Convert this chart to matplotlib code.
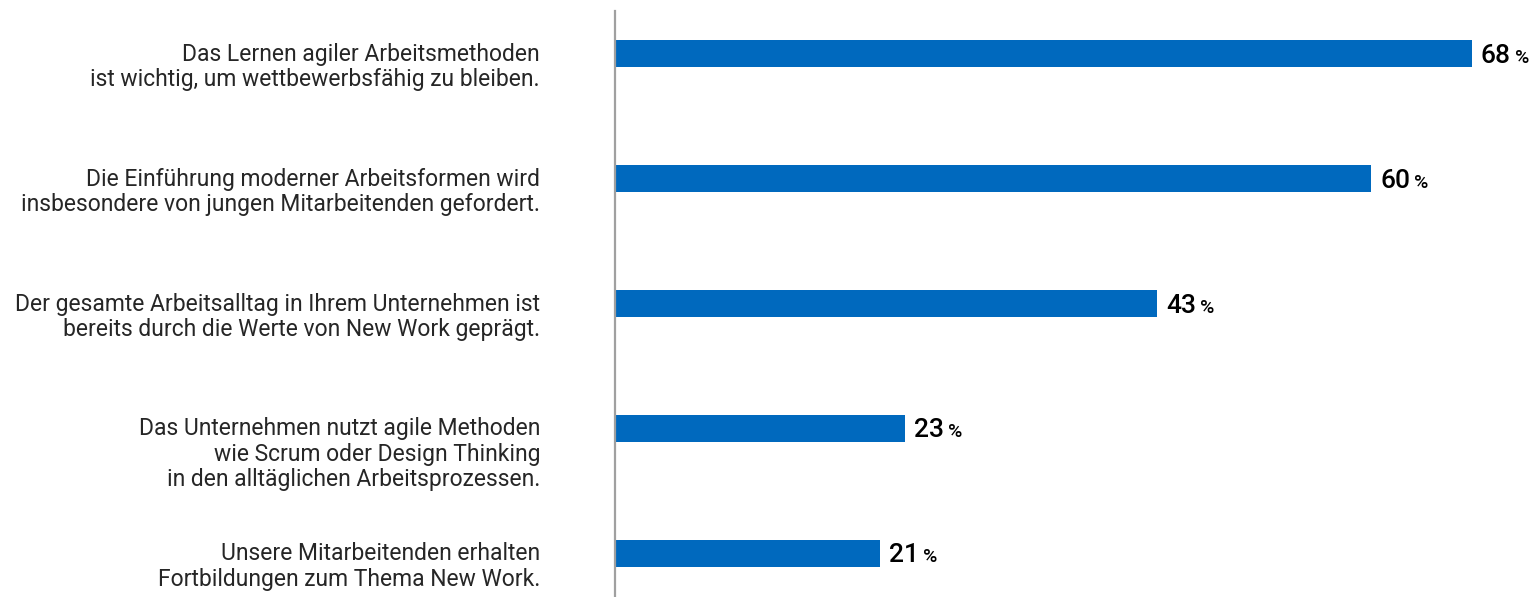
import matplotlib.pyplot as plt

labels = [
    "Das Lernen agiler Arbeitsmethoden\nist wichtig, um wettbewerbsfähig zu bleiben.",
    "Die Einführung moderner Arbeitsformen wird\ninsbesondere von jungen Mitarbeitenden gefordert.",
    "Der gesamte Arbeitsalltag in Ihrem Unternehmen ist\nbereits durch die Werte von New Work geprägt.",
    "Das Unternehmen nutzt agile Methoden\nwie Scrum oder Design Thinking\nin den alltäglichen Arbeitsprozessen.",
    "Unsere Mitarbeitenden erhalten\nFortbildungen zum Thema New Work.",
]
values = [68, 60, 43, 23, 21]

bar_color = "#0069be"
text_color = "#262626"

fig = plt.figure(figsize=(15.38, 5.97), dpi=100)
ax = fig.add_axes([615 / 1538, 0, 923 / 1538, 586 / 597])

pos = list(range(len(values)))
ax.barh(pos, values, height=0.216, color=bar_color)
ax.set_xlim(0, 923 / 12.6)
ax.set_ylim(4.352, -0.344)

for s in ["top", "right", "bottom"]:
    ax.spines[s].set_visible(False)
ax.spines["left"].set_color("#a0a0a0")
ax.spines["left"].set_linewidth(1.6)
ax.set_xticks([])
ax.set_yticks([])

for i, (lab, v) in enumerate(zip(labels, values)):
    ax.annotate(lab, xy=(0, i), xytext=(-75, 11), textcoords="offset pixels",
                ha="right", va="top", fontsize=16.5, color=text_color,
                family="Roboto", linespacing=1.14)
    t = ax.annotate(str(v), xy=(v, i), xytext=(9, -9), textcoords="offset pixels",
                    ha="left", va="baseline", fontsize=19, color="black",
                    family="Roboto", fontweight="medium")
    ax.annotate("%", xy=(1, 0), xycoords=t, xytext=(4, 1),
                textcoords="offset pixels", ha="left", va="bottom",
                fontsize=14, color="black", family="Roboto", fontweight="medium")

fig.savefig("out.png", dpi=100)
